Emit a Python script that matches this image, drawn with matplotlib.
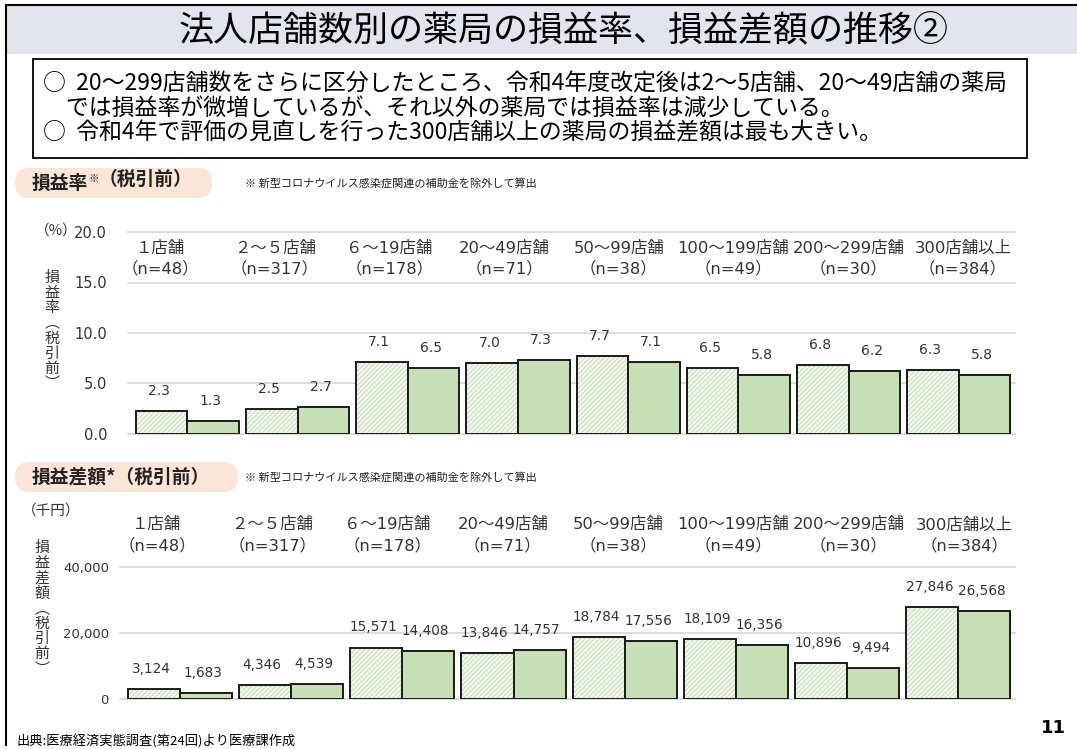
"""
法人店舗数別の薬局の損益率、損益差額の推移② -- two paired bar panels on one slide.
"""

import numpy as np
import matplotlib
matplotlib.use("Agg")
import matplotlib.pyplot as plt
from matplotlib.patches import Rectangle, FancyBboxPatch

W, H = 1077, 749
JP = "Noto Sans CJK JP"
plt.rcParams["font.family"] = [JP, "DejaVu Sans"]
plt.rcParams["hatch.linewidth"] = 0.5
NUM = ["DejaVu Sans", JP]

# ── Data ──────────────────────────────────────────────────────────────────────
categories  = ["１店舗", "２～５店舗", "６～19店舗", "20～49店舗",
               "50～99店舗", "100～199店舗", "200～299店舗", "300店舗以上"]
n_counts    = [48, 317, 178, 71, 38, 49, 30, 384]
rate_before = [2.3, 2.5, 7.1, 7.0, 7.7, 6.5, 6.8, 6.3]
rate_after  = [1.3, 2.7, 6.5, 7.3, 7.1, 5.8, 6.2, 5.8]
diff_before = [3124, 4346, 15571, 13846, 18784, 18109, 10896, 27846]
diff_after  = [1683, 4539, 14408, 14757, 17556, 16356, 9494, 26568]
rate_ticks  = [0, 5, 10, 15, 20]
diff_ticks  = [0, 20000, 40000]

TITLE = "法人店舗数別の薬局の損益率、損益差額の推移②"
BULLETS = [
    "○  20～299店舗数をさらに区分したところ、令和4年度改定後は2～5店舗、20～49店舗の薬局",
    "　では損益率が微増しているが、それ以外の薬局では損益率は減少している。",
    "○  令和4年で評価の見直しを行った300店舗以上の薬局の損益差額は最も大きい。",
]
NOTE = "※ 新型コロナウイルス感染症関連の補助金を除外して算出"
SOURCE = "出典:医療経済実態調査(第24回)より医療課作成"

BAND_BG   = "#e4e4ee"
PILL_BG   = "#fbe5d6"
SOLID     = "#c5e0b4"
HATCH_BG  = "#f1f6ec"
HATCH_LN  = "#bcd4aa"
EDGE      = "#1a1a1a"
GRID_COL  = "#d9d9d9"
TEXT_COL  = "#333333"
BW = 0.469

fig = plt.figure(figsize=(W / 100, H / 100), dpi=100)

# pixel canvas for the slide furniture
cv = fig.add_axes([0, 0, 1, 1], zorder=0)
cv.set_xlim(0, W)
cv.set_ylim(H, 0)
cv.axis("off")

cv.add_patch(Rectangle((6, 5), W - 6, 49, fc=BAND_BG, ec="none"))
cv.plot([6, W], [5, 5], color="black", lw=1.5)
cv.plot([6, 6], [5, 745], color="black", lw=1.5)
cv.text(564, 30, TITLE, ha="center", va="center", fontsize=25.2, color="black")

cv.add_patch(Rectangle((33, 59), 994, 99, fc="white", ec="black", lw=1.3))
for i, line in enumerate(BULLETS):
    cv.text(43, 84 + 24.5 * i, line, ha="left", va="center", fontsize=16.5, color="black")


def pill(x0, x1, yc, parts):
    cv.add_patch(FancyBboxPatch((x0, yc - 15), x1 - x0, 30,
                                boxstyle="round,pad=0,rounding_size=15",
                                fc=PILL_BG, ec="none"))
    prev = None
    for txt, size in parts:
        if prev is None:
            prev = cv.text(32, yc, txt, ha="left", va="center", fontsize=size,
                           fontweight="bold", color="#222222")
        else:
            prev = cv.annotate(txt, xy=(1, 0.5 if size > 10 else 0.7),
                               xycoords=prev, ha="left",
                               va="center", fontsize=size,
                               fontweight="bold" if size > 10 else "normal",
                               color="#222222")
    cv.text(245, yc, NOTE, ha="left", va="center", fontsize=8, color="#222222")


pill(15, 212, 183, [("損益率", 13.5), ("※", 7.5), ("（税引前）", 13.5)])
pill(15, 238, 477, [("損益差額*（税引前）", 13.5)])


def vlabel(x, y0, text, pitch=15.2):
    for k, ch in enumerate(text):
        cv.text(x, y0 + pitch * k, ch, ha="center", va="center",
                fontsize=10.8, color=TEXT_COL)


vlabel(52, 278, "損益率︵税引前︶")
vlabel(42, 548, "損益差額︵税引前︶")
cv.text(56, 231, "（%）", ha="center", va="center", fontsize=10.5, color=TEXT_COL)
cv.text(22, 511, "（千円）", ha="left", va="center", fontsize=10.5, color=TEXT_COL)

cv.text(17, 741, SOURCE, ha="left", va="center", fontsize=9.5, color="black")
cv.text(1053, 728, "11", ha="center", va="center", fontsize=13,
        fontweight="bold", color="black", family=NUM)

for i, (cat, n) in enumerate(zip(categories, n_counts)):
    for x0, dx, y1, y2 in [(160, 114.7, 248, 269), (157, 115.3, 525, 546)]:
        cv.text(x0 + dx * i, y1, cat, ha="center", va="center", fontsize=11.8,
                color=TEXT_COL, family=NUM)
        cv.text(x0 + dx * i, y2, f"（n={n}）", ha="center", va="center",
                fontsize=11.8, color=TEXT_COL, family=NUM)


# ── Bar panels ────────────────────────────────────────────────────────────────
def panel(rect, before, after, ticks, fmt, pad):
    l, r, top, bot = rect
    ax = fig.add_axes([l / W, 1 - bot / H, (r - l) / W, (bot - top) / H], zorder=2)
    ax.patch.set_alpha(0)
    x = np.arange(len(before))
    ax.bar(x - BW / 2, before, BW, color=HATCH_BG, edgecolor=HATCH_LN,
           hatch="///////", linewidth=0, zorder=2)
    ax.bar(x - BW / 2, before, BW, fill=False, edgecolor=EDGE, linewidth=1.4, zorder=3)
    ax.bar(x + BW / 2, after, BW, color=SOLID, edgecolor=EDGE, linewidth=1.4, zorder=3)
    for xs, vals in [(x - BW / 2, before), (x + BW / 2, after)]:
        for xi, v in zip(xs, vals):
            ax.annotate(fmt(v), xy=(xi, v), xytext=(-2, 14.5), textcoords="offset points",
                        ha="center", va="center", fontsize=10 if pad > 12 else 9.8,
                        color=TEXT_COL, family=NUM, annotation_clip=False)
    ax.set_xlim(-0.539, 7.51)
    ax.set_ylim(ticks[0], ticks[-1])
    ax.set_yticks(ticks)
    ax.set_yticklabels([fmt(t) for t in ticks], family=NUM,
                       fontsize=10.5 if pad > 12 else 9.5, color=TEXT_COL)
    ax.set_xticks([])
    ax.tick_params(axis="y", length=0, pad=pad)
    ax.yaxis.grid(True, color=GRID_COL, linewidth=1.3)
    for gl in ax.get_ygridlines():
        gl.set_clip_on(False)
    ax.set_axisbelow(True)
    for s in ax.spines.values():
        s.set_visible(False)
    return ax


panel((128, 1015, 232, 434), rate_before, rate_after, rate_ticks,
      lambda v: f"{v:.1f}", 15)
panel((120, 1015, 567, 699), diff_before, diff_after, diff_ticks,
      lambda v: f"{v:,.0f}", 8)

fig.savefig("out.png", dpi=100, facecolor="white")
plt.close(fig)
